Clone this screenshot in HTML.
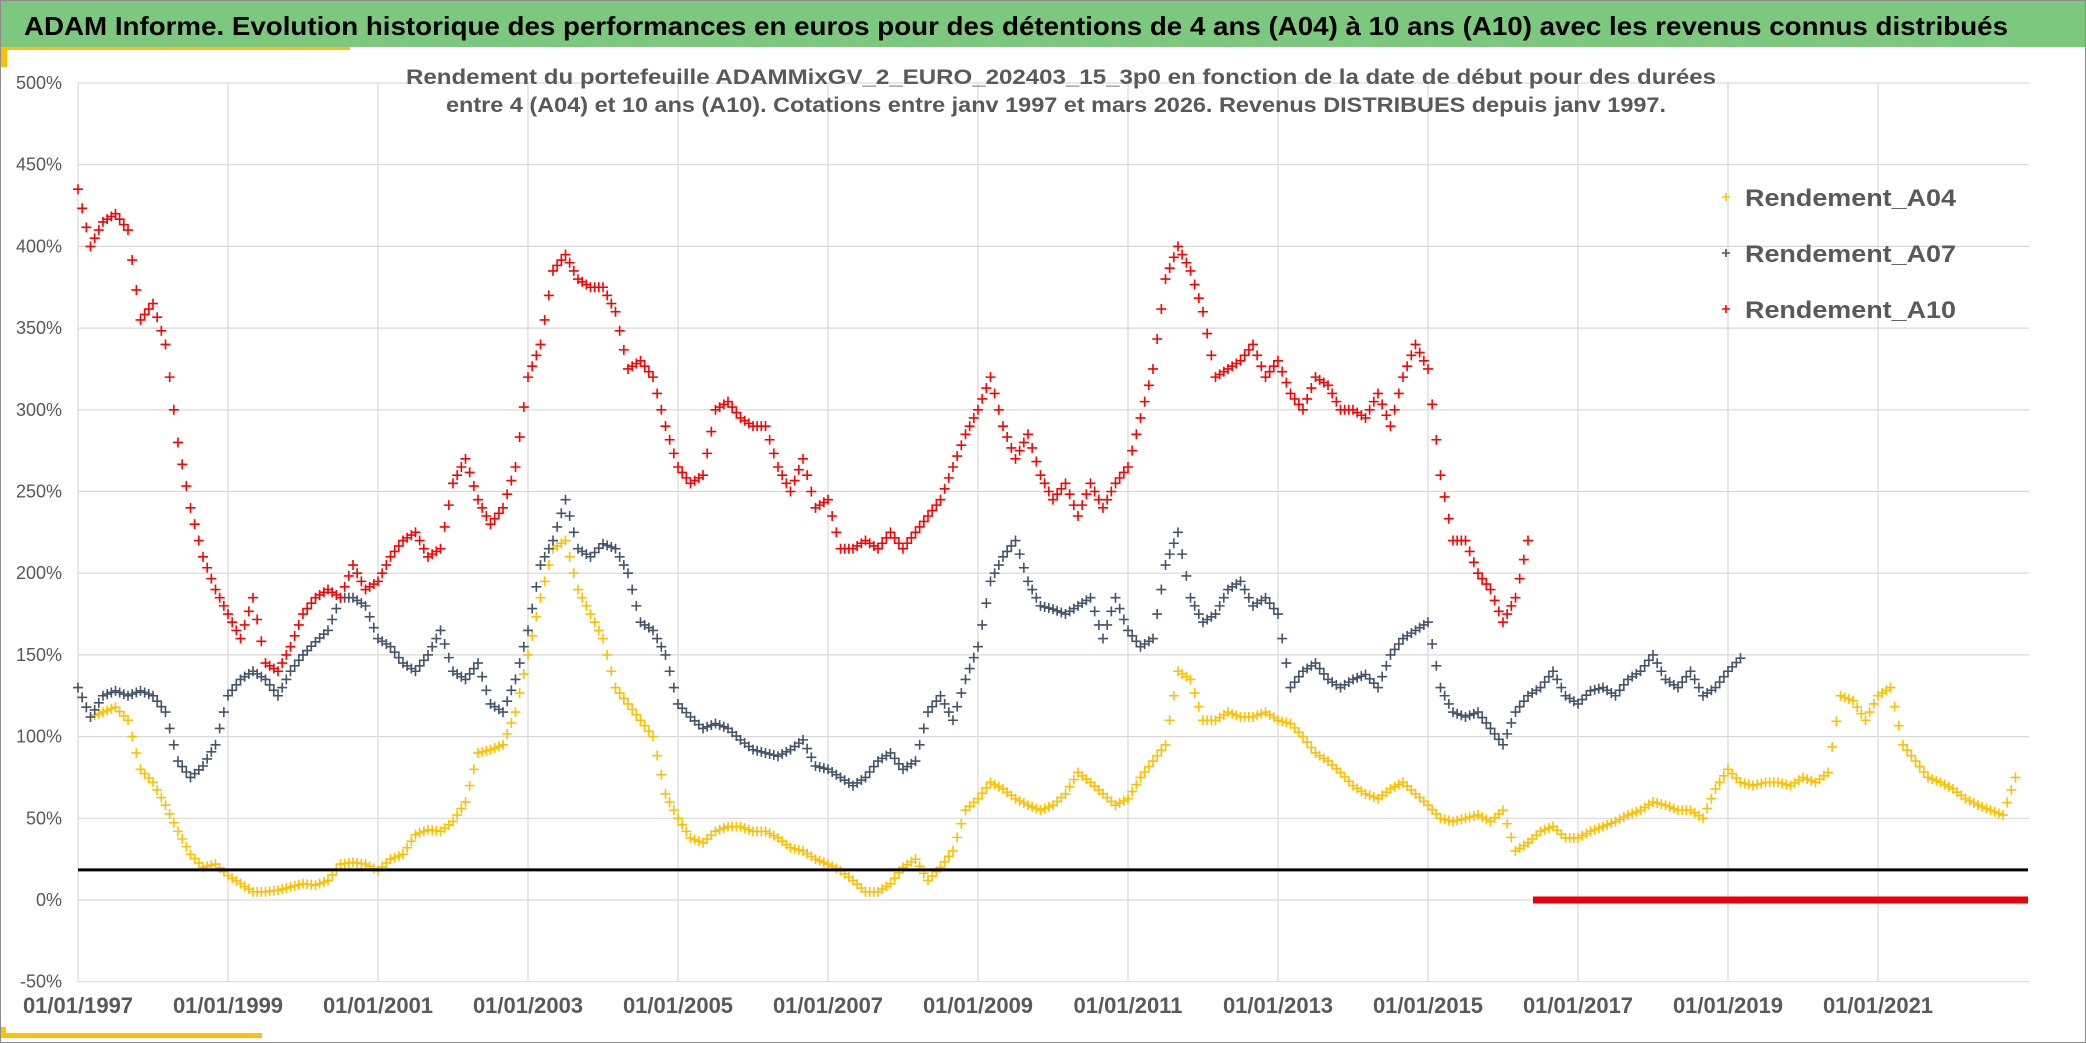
<!DOCTYPE html>
<html><head><meta charset="utf-8"><style>
html,body{margin:0;padding:0;background:#fff;}
svg{display:block;font-family:"Liberation Sans",sans-serif;}
</style></head><body>
<svg id="chart" width="2086" height="1043" viewBox="0 0 2086 1043" xmlns="http://www.w3.org/2000/svg">
<rect x="0.5" y="0.5" width="2085" height="1042" fill="#fff" stroke="#8c8c8c"/>
<rect x="1" y="1" width="2084" height="46" fill="#7dc87f"/>
<text x="24" y="35" font-size="26" font-weight="bold" fill="#000" textLength="1984" lengthAdjust="spacingAndGlyphs">ADAM Informe. Evolution historique des performances en euros pour des détentions de 4 ans (A04) à 10 ans (A10) avec les revenus connus distribués</text>
<rect x="1" y="47" width="349" height="3" fill="#ffc000"/>
<rect x="1" y="47" width="6" height="20" fill="#ffc000"/>
<rect x="1" y="1033" width="261" height="5" fill="#ffc000"/>
<rect x="1" y="1027" width="5" height="11" fill="#ffc000"/>
<g id="grid"></g>
<g id="axes"></g>
<g id="marks"></g>
<text x="1061" y="84" font-size="21" font-weight="bold" fill="#595959" text-anchor="middle" textLength="1310" lengthAdjust="spacingAndGlyphs">Rendement du portefeuille ADAMMixGV_2_EURO_202403_15_3p0  en fonction de la date de début pour des durées</text>
<text x="1056" y="112" font-size="21" font-weight="bold" fill="#595959" text-anchor="middle" textLength="1220" lengthAdjust="spacingAndGlyphs">entre 4 (A04) et 10 ans (A10). Cotations entre janv 1997 et mars 2026. Revenus DISTRIBUES depuis janv 1997.</text>
<g id="legend"></g>
</svg>
<script>
const yTicks = [-50,0,50,100,150,200,250,300,350,400,450,500];
const xTickYears = [1997,1999,2001,2003,2005,2007,2009,2011,2013,2015,2017,2019,2021];
const xTickLabels = ["01/01/1997","01/01/1999","01/01/2001","01/01/2003","01/01/2005","01/01/2007","01/01/2009","01/01/2011","01/01/2013","01/01/2015","01/01/2017","01/01/2019","01/01/2021"];
const seriesNames = ["Rendement_A04","Rendement_A07","Rendement_A10"];
const startYear = 1997;
const stepYears = 1/6;
const a04 = [130,112,115,118,110,80,72,58,42,28,20,22,15,10,5,5,6,8,10,9,12,22,23,22,18,25,28,40,43,42,48,60,90,92,95,115,150,185,215,220,190,175,160,130,120,110,100,65,50,38,35,42,45,45,42,42,38,32,30,25,22,18,12,5,5,10,20,25,12,20,30,55,62,72,68,62,58,55,58,65,78,72,65,58,62,75,85,95,140,135,110,110,115,112,112,115,110,108,100,90,85,78,70,65,62,68,72,65,58,50,48,50,52,48,55,30,35,42,45,38,38,42,45,48,52,55,60,58,55,55,50,68,80,72,70,72,72,70,75,72,78,125,122,110,125,130,95,85,75,72,68,62,58,55,52,75];
const a07 = [130,112,125,128,125,128,125,115,85,75,82,95,125,135,140,135,125,140,150,158,165,185,185,180,160,155,145,140,150,165,140,135,145,120,115,135,165,205,220,245,215,210,218,215,200,170,165,150,120,112,105,108,105,98,92,90,88,92,98,82,80,75,70,75,85,90,80,85,115,125,110,135,155,195,210,220,195,180,178,175,180,185,160,185,165,155,160,205,225,185,170,175,190,195,180,185,175,130,140,145,135,130,135,138,130,150,160,165,170,130,115,112,115,105,95,115,125,130,140,125,120,128,130,125,135,140,150,135,130,140,125,130,140,148];
const a10 = [435,400,415,420,410,355,365,340,280,240,210,190,175,160,185,145,140,155,175,185,190,185,205,190,195,210,220,225,210,215,255,270,245,230,240,265,320,340,385,395,380,375,375,360,325,330,320,290,265,255,260,300,305,295,290,290,265,250,270,240,245,215,215,220,215,225,215,225,235,245,265,285,300,320,290,270,285,260,245,255,235,255,240,255,265,295,325,380,400,385,360,320,325,330,340,320,330,310,300,320,315,300,300,295,310,290,320,340,325,260,220,220,200,190,170,185,220];
const a10DistribYears = [2016.4, 2023.0];
const a10DistribValue = [0, 0];
const thresholdValue = 18.4;
const thresholdYears = [1997, 2023];

const NS = "http://www.w3.org/2000/svg";
const X0 = 78, X1 = 2029, Y0 = 83, Y1 = 982;
function xs(yr){ return X0 + (yr - 1997) * 75; }
function ys(v){ return 900 - v * 81.7 / 50; }
function mk(tag, attrs, parent){
  const e = document.createElementNS(NS, tag);
  for (const k in attrs) e.setAttribute(k, attrs[k]);
  parent.appendChild(e); return e;
}
const grid = document.getElementById('grid');
const axes = document.getElementById('axes');
const marks = document.getElementById('marks');
const legend = document.getElementById('legend');

yTicks.forEach(v => {
  const l = mk('line', {x1:X0, x2:X1, y1:ys(v), y2:ys(v), stroke:'#d9d9d9', 'stroke-width':1.2}, grid);
  
  
  const t = mk('text', {x:62, y:ys(v)+6, 'font-size':18, fill:'#595959', 'text-anchor':'end'}, axes);
  t.textContent = v + '%';
  
  
});
xTickYears.forEach((yr, i) => {
  const l = mk('line', {x1:xs(yr), x2:xs(yr), y1:Y0, y2:Y1, stroke:'#d9d9d9', 'stroke-width':1.2}, grid);
  
  
  const t = mk('text', {x:xs(yr), y:1013, 'font-size':22, 'font-weight':'bold', fill:'#595959', 'text-anchor':'middle'}, axes);
  t.textContent = xTickLabels[i];
  
  
});

function plus(cx, cy, color, parent, s){
  return mk('path', {d:`M${cx-s} ${cy}H${cx+s}M${cx} ${cy-s}V${cy+s}`, stroke:color, 'stroke-width':1.6, fill:'none'}, parent);
}
const colors = ['#ffc000', '#44546a', '#ff0000'];
[a04, a07, a10].forEach((arr, si) => {
  const g = mk('g', {}, marks);
  
  
  arr.forEach((v, i) => {
    const yr = startYear + i * stepYears;
    const p = plus(xs(yr), ys(v), colors[si], g, 5);
    
    
    if (i + 1 < arr.length) {
      const nv = arr[i + 1];
      [1/3, 2/3].forEach(t => {
        const q = plus(xs(yr + t * stepYears), ys(v + (nv - v) * t), colors[si], g, 5);
        
        
      });
    }
  });
});
const band = mk('line', {x1:xs(a10DistribYears[0]), x2:xs(a10DistribYears[1]), y1:ys(a10DistribValue[0]), y2:ys(a10DistribValue[1]), stroke:'#e8000b', 'stroke-width':7}, marks);


const thr = mk('line', {x1:xs(thresholdYears[0]), x2:xs(thresholdYears[1]), y1:ys(thresholdValue), y2:ys(thresholdValue), stroke:'#000', 'stroke-width':3}, marks);



seriesNames.forEach((n, i) => {
  const y = 197 + i * 56;
  const m = plus(1726, y, colors[i], legend, 4);
  
  
  const t = mk('text', {x:1745, y:y+9, 'font-size':24, 'font-weight':'bold', fill:'#595959', textLength:211, lengthAdjust:'spacingAndGlyphs'}, legend);
  t.textContent = n;
  
  
});
</script>
</body></html>
